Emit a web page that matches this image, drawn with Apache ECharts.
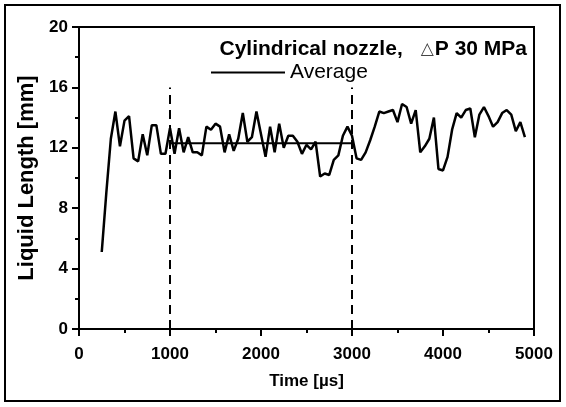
<!DOCTYPE html>
<html><head><meta charset="utf-8">
<script src="https://cdn.jsdelivr.net/npm/echarts@6/dist/echarts.min.js"></script>
<style>html,body{margin:0;padding:0;background:#fff}#c{width:566px;height:407px}</style>
</head><body><div id="c"></div>
<script>
const times = [250,300,350,400,450,500,550,600,650,700,750,800,850,900,950,
1000,1050,1100,1150,1200,1250,1300,1350,1400,1450,1500,1550,1600,1650,1700,1750,1800,1850,1900,1950,
2000,2050,2100,2150,2200,2250,2300,2350,2400,2450,2500,2550,2600,2650,2700,2750,2800,2850,2900,2950,
3000,3050,3100,3150,3200,3250,3300,3350,3400,3450,3500,3550,3600,3650,3700,3750,3800,3850,3900,3950,
4000,4050,4100,4150,4200,4250,4300,4350,4400,4450,4500,4550,4600,4650,4700,4750,4800,4850,4900];
const liquidLength = [5.1,9.0,12.6,14.4,12.1,13.8,14.1,11.3,11.1,12.9,11.5,13.5,13.5,11.6,11.6,
13.3,11.6,13.3,11.7,12.7,11.7,11.7,11.5,13.4,13.2,13.6,13.4,11.7,12.9,11.8,12.6,14.3,12.4,12.7,14.4,
12.9,11.4,13.4,11.7,13.6,12.0,12.8,12.8,12.4,11.6,12.2,11.9,12.4,10.1,10.3,10.2,11.2,11.5,12.8,13.4,
12.8,11.3,11.2,11.7,12.5,13.4,14.4,14.3,14.4,14.5,13.7,14.9,14.7,13.6,14.5,11.7,12.1,12.6,14.0,10.6,
10.5,11.4,13.2,14.3,14.0,14.5,14.6,12.7,14.2,14.7,14.1,13.4,13.7,14.3,14.5,14.2,13.1,13.7,12.7];
const avgRange = [1000, 3000];
const avgValue = 12.3;
const markerTimes = [1000, 3000];
const markerTop = 16;
const xTicks = [0,1000,2000,3000,4000,5000];
const yTicks = [0,4,8,12,16,20];
const titleText = 'Cylindrical nozzle,';
const titleText2 = 'P 30 MPa';

const FONT = '"Liberation Sans", Arial, sans-serif';
const chart = echarts.init(document.getElementById('c'), null, {renderer:'canvas'});
const mainData = times.map((t,i)=>[t, liquidLength[i]]);
const series = [
  {name:'Data', type:'line', data: mainData, showSymbol:false, color:'#000', lineStyle:{color:'#000', width:2.5}, z:3},
  {name:'Average', type:'line', data: avgRange.map(t=>[t, avgValue]), showSymbol:false, color:'#000', itemStyle:{color:'#000'}, lineStyle:{color:'#000', width:2}, z:4}
];
markerTimes.forEach(t=>{
  series.push({name:'m'+t, type:'line', data:[[t,0],[t,markerTop]], showSymbol:false, color:'#000',
    lineStyle:{color:'#000', width:2, type:[9,6]}, z:2});
});
chart.setOption({
  animation:false,
  color:['#000'],
  backgroundColor:'#fff',
  title:{
    text:'{b|'+titleText+'}{g|}{t|△}{b|'+titleText2+'}',
    right:34, top:34,
    textStyle:{rich:{
      b:{fontFamily:FONT, fontWeight:'bold', fontSize:21, color:'#000'},
      g:{width:18},
      t:{fontFamily:'"DejaVu Sans", sans-serif', fontSize:17, color:'#444', padding:[0,1,0,0]}
    }}
  },
  legend:{
    data:['Average'], left:206, top:57, icon:'rect', itemWidth:74, itemHeight:2, itemGap:5,
    itemStyle:{color:'#000'},
    textStyle:{fontFamily:FONT, fontSize:21, color:'#000'}
  },
  grid:{left:79, right:32, top:27, bottom:78, show:true, borderColor:'#000', borderWidth:2, backgroundColor:'transparent'},
  xAxis:{
    type:'value', min:xTicks[0], max:xTicks[xTicks.length-1], interval:1000,
    name:'Time [µs]', nameLocation:'middle', nameGap:44,
    nameTextStyle:{fontFamily:FONT, fontWeight:'bold', fontSize:17, color:'#000'},
    axisLine:{show:true, lineStyle:{color:'#000', width:2}},
    axisTick:{show:true, inside:false, length:7, lineStyle:{color:'#000', width:2}},
    minorTick:{show:true, splitNumber:2, length:4, lineStyle:{color:'#000', width:2}},
    splitLine:{show:false},
    axisLabel:{fontFamily:FONT, fontWeight:'bold', fontSize:17, color:'#000', margin:17, formatter:v=>String(v)}
  },
  yAxis:{
    type:'value', min:yTicks[0], max:yTicks[yTicks.length-1], interval:4,
    name:'Liquid Length [mm]', nameLocation:'middle', nameGap:32,
    nameTextStyle:{fontFamily:FONT, fontWeight:'bold', fontSize:22, color:'#000'},
    axisLine:{show:true, lineStyle:{color:'#000', width:2}},
    axisTick:{show:true, inside:false, length:7, lineStyle:{color:'#000', width:2}},
    minorTick:{show:true, splitNumber:2, length:4, lineStyle:{color:'#000', width:2}},
    splitLine:{show:false},
    axisLabel:{fontFamily:FONT, fontWeight:'bold', fontSize:17, color:'#000', margin:11, formatter:v=>String(v)}
  },
  graphic:[{type:'rect', shape:{x:5, y:5, width:555, height:396}, style:{fill:'none', stroke:'#000', lineWidth:2}, silent:true, z:-1}],
  series: series
});
</script></body></html>
